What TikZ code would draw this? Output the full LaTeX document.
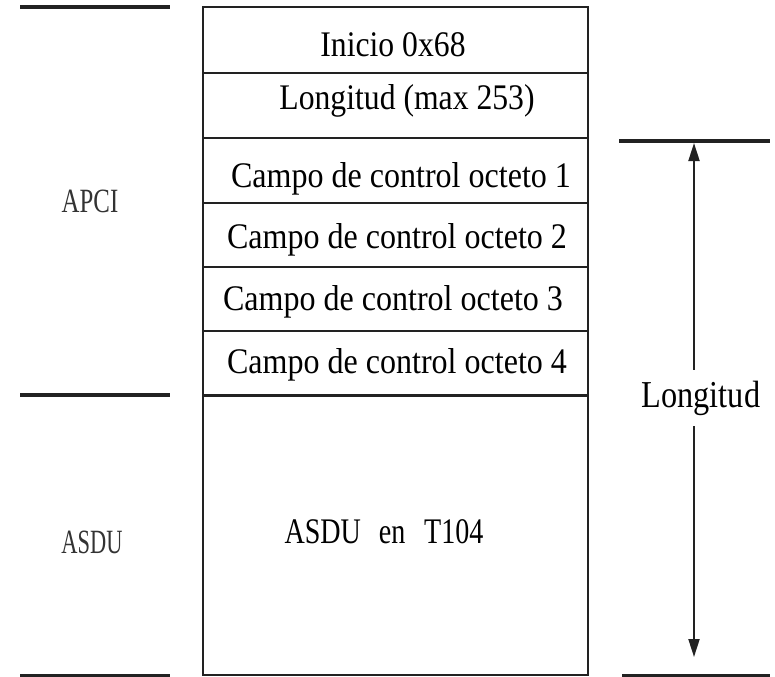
\documentclass[tikz,border=0pt]{standalone}
\usepackage{fontspec}
\setmainfont{Liberation Serif}
\usetikzlibrary{arrows.meta}
\newcommand\hsq[2]{\scalebox{#1}[1]{#2}}
\definecolor{ink}{HTML}{222222}
\begin{document}
\begin{tikzpicture}[x=1bp,y=-1bp,
  boxline/.style={draw=ink,line width=2bp},
  marker/.style={draw=ink,line width=4bp},
  rowtext/.style={anchor=base,inner sep=0pt,text=black,font=\fontsize{36bp}{40bp}\selectfont},
  sidetext/.style={anchor=base,inner sep=0pt,text=black!80,font=\fontsize{34bp}{38bp}\selectfont},
  lentext/.style={anchor=base,inner xsep=4bp,inner ysep=11bp,fill=white,text=black,font=\fontsize{38bp}{42bp}\selectfont},
  dimarrow/.style={draw=ink,line width=2bp,{Triangle[length=18bp,width=11bp]}-{Triangle[length=18bp,width=11bp]}}
]
\useasboundingbox (0,0) rectangle (775,677);
\fill[white] (0,0) rectangle (775,677);

% main frame
\coordinate (bTL) at (203,7);
\coordinate (bBR) at (588,675);
\draw[boxline] (bTL) rectangle (bBR);
\foreach \yy in {73,138,203,267,331}{
  \draw[boxline] (203,\yy) -- (588,\yy);
}
\draw[draw=ink,line width=3bp] (203,395) -- (588,395);

% row texts
\node[rowtext] (r1) at (393,57) {\hsq{0.88}{Inicio 0x68}};
\node[rowtext] (r2) at (407,110) {\hsq{0.88}{Longitud (max 253)}};
\node[rowtext] (r3) at (401,187) {\hsq{0.89}{Campo de control octeto 1}};
\node[rowtext] (r4) at (397,248) {\hsq{0.89}{Campo de control octeto 2}};
\node[rowtext] (r5) at (393,310) {\hsq{0.89}{Campo de control octeto 3}};
\node[rowtext] (r6) at (397,373) {\hsq{0.89}{Campo de control octeto 4}};
\node[rowtext] (r7) at (384,543) {\hsq{0.78}{ASDU\hspace{23bp}en\hspace{24bp}T104}};

% left markers and labels
\draw[marker] (20,7) -- (170,7);
\draw[marker] (20,395) -- (170,395);
\draw[marker] (20,676) -- (170,676);
\node[sidetext] (apci) at (90,212) {\hsq{0.73}{APCI}};
\node[sidetext] (asdu) at (92,553) {\hsq{0.66}{ASDU}};

% right markers, dimension arrow and label
\draw[marker] (619,141) -- (770,141);
\draw[marker] (622,676) -- (770,676);
\coordinate (atop) at (694,143);
\coordinate (abot) at (694,657);
\draw[dimarrow] (atop) -- (abot);
\node[lentext] (len) at (701,407) {\hsq{0.85}{Longitud}};
\end{tikzpicture}
\end{document}
